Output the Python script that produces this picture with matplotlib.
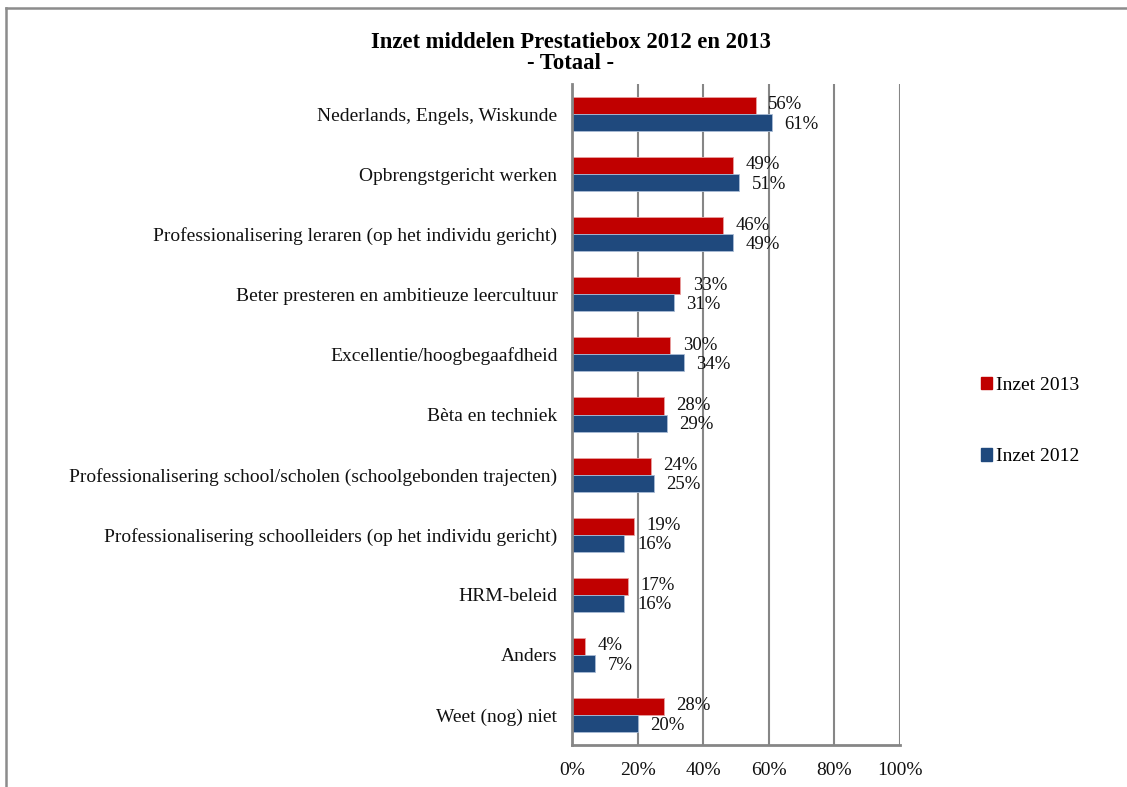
import matplotlib
matplotlib.use("Agg")
import matplotlib.pyplot as plt
from matplotlib.lines import Line2D
from matplotlib.patches import Patch

categories = [
    "Nederlands, Engels, Wiskunde",
    "Opbrengstgericht werken",
    "Professionalisering leraren (op het individu gericht)",
    "Beter presteren en ambitieuze leercultuur",
    "Excellentie/hoogbegaafdheid",
    "Bèta en techniek",
    "Professionalisering school/scholen (schoolgebonden trajecten)",
    "Professionalisering schoolleiders (op het individu gericht)",
    "HRM-beleid",
    "Anders",
    "Weet (nog) niet",
]
inzet_2013 = [56, 49, 46, 33, 30, 28, 24, 19, 17, 4, 28]
inzet_2012 = [61, 51, 49, 31, 34, 29, 25, 16, 16, 7, 20]
series_names = ["Inzet 2013", "Inzet 2012"]
xticks = [0, 20, 40, 60, 80, 100]
xtick_labels = ["0%", "20%", "40%", "60%", "80%", "100%"]
title = "Inzet middelen Prestatiebox 2012 en 2013\n- Totaal -"

W, H = 1127, 787
plt.rcParams['font.family'] = ['Liberation Serif', 'DejaVu Serif']
fig = plt.figure(figsize=(W / 100, H / 100), dpi=100)

ax_l, ax_r, ax_t, ax_b = 572, 900, 84, 745
ax = fig.add_axes([ax_l / W, 1 - ax_b / H, (ax_r - ax_l) / W, (ax_b - ax_t) / H])

red = "#C00000"
blue = "#1F497D"
grid_c = "#868686"
h = 0.283
ypos = list(range(len(categories)))

ax.barh([y - h / 2 for y in ypos], inzet_2013, height=h, color=red,
        edgecolor="#E8A0A0", linewidth=0.6, zorder=3)
ax.barh([y + h / 2 for y in ypos], inzet_2012, height=h, color=blue,
        edgecolor="#A9BCD6", linewidth=0.6, zorder=3)

for y, v in zip(ypos, inzet_2013):
    ax.annotate(f"{v}%", (v, y - h / 2), xytext=(9, 0.5), textcoords="offset points",
                ha="left", va="center", fontsize=13.5, color="#111111")
for y, v in zip(ypos, inzet_2012):
    ax.annotate(f"{v}%", (v, y + h / 2), xytext=(9, -1.2), textcoords="offset points",
                ha="left", va="center", fontsize=13.5, color="#111111")

ax.set_xlim(0, 100)
ax.set_ylim(len(categories) - 0.5, -0.5)
ax.set_yticks(ypos)
ax.set_yticklabels(categories, fontsize=14.0, color="#111111")
ax.set_xticks(xticks)
ax.set_xticklabels(xtick_labels, fontsize=14, color="#111111")
ax.tick_params(axis="y", length=0, pad=10.5)
ax.tick_params(axis="x", length=0, pad=12.5)
ax.xaxis.grid(True, color=grid_c, linewidth=1.5, zorder=0)
for s in ["top", "right"]:
    ax.spines[s].set_visible(False)
for s in ["left", "bottom"]:
    ax.spines[s].set_color(grid_c)
    ax.spines[s].set_linewidth(2)
    ax.spines[s].set_zorder(4)

fig.text(571 / W, 1 - 53 / H, title, ha="center", va="center", fontsize=16.3,
         fontweight="bold", linespacing=1.0)

handles = [Patch(facecolor=red, edgecolor=red), Patch(facecolor=blue, edgecolor=blue)]
fig.legend(handles, series_names, loc="center left",
           bbox_to_anchor=(963 / W, 1 - 421 / H), frameon=False, fontsize=14,
           handlelength=0.6, handleheight=0.6, handletextpad=0.2, labelspacing=2.8)

# outer frame
fig.add_artist(Line2D([6 / W, 1], [1 - 8 / H, 1 - 8 / H], color="#8C8C8C", lw=1.8,
                      transform=fig.transFigure))
fig.add_artist(Line2D([6 / W, 6 / W], [0, 1 - 8 / H], color="#8C8C8C", lw=1.8,
                      transform=fig.transFigure))

fig.savefig("out.png", dpi=100)
